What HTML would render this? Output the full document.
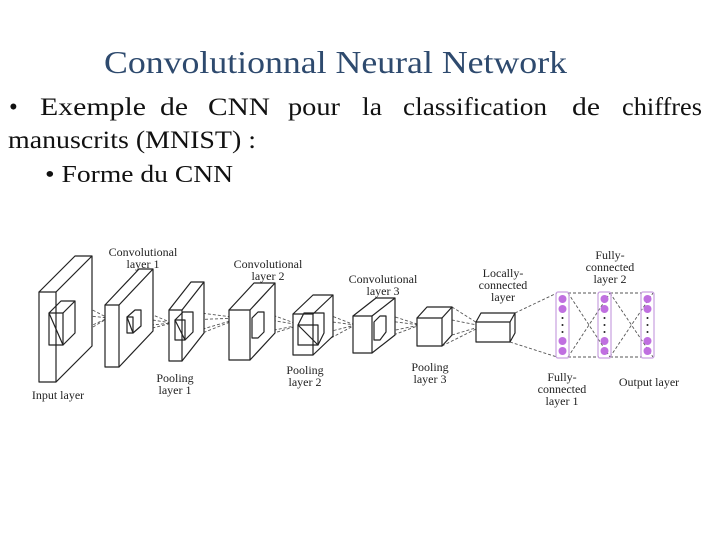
<!DOCTYPE html>
<html><head><meta charset="utf-8"><style>
html,body{margin:0;padding:0;background:#fff}
svg{display:block}
text{font-family:"Liberation Serif",serif}
</style></head><body>
<svg width="720" height="540" viewBox="0 0 720 540" xmlns="http://www.w3.org/2000/svg">
<rect width="720" height="540" fill="#fff"/>
<text x="104" y="73" font-size="32" fill="#2e4a6e" textLength="463" lengthAdjust="spacingAndGlyphs">Convolutionnal Neural Network</text>
<g font-size="25" fill="#111">
<text x="9" y="115">•</text>
<text x="40" y="115" textLength="106" lengthAdjust="spacingAndGlyphs">Exemple</text>
<text x="160" y="115" textLength="28" lengthAdjust="spacingAndGlyphs">de</text>
<text x="208" y="115" textLength="62" lengthAdjust="spacingAndGlyphs">CNN</text>
<text x="288" y="115" textLength="52" lengthAdjust="spacingAndGlyphs">pour</text>
<text x="362" y="115" textLength="20" lengthAdjust="spacingAndGlyphs">la</text>
<text x="403" y="115" textLength="144" lengthAdjust="spacingAndGlyphs">classification</text>
<text x="572" y="115" textLength="28" lengthAdjust="spacingAndGlyphs">de</text>
<text x="622" y="115" textLength="80" lengthAdjust="spacingAndGlyphs">chiffres</text>
</g>
<text x="8" y="148" font-size="25" fill="#111" textLength="248" lengthAdjust="spacingAndGlyphs">manuscrits (MNIST) :</text>
<text x="45" y="182" font-size="24" fill="#111" textLength="188" lengthAdjust="spacingAndGlyphs">• Forme du CNN</text>

<g fill="none" stroke="#555" stroke-width="0.9" stroke-dasharray="3,2">
<path d="M75 301 L108 318 M75 333 L108 318 M63 313 L108 318 M63 345 L108 318"/>
<path d="M141 310 L172 323 M141 326 L172 323 M133 317 L172 323 M133 333 L172 323"/>
<path d="M193 312 L240 318 M193 332 L240 318 M185 320 L240 318 M185 340 L240 318"/>
<path d="M264 312 L300 325 M264 332 L300 325 M258 318 L300 325 M258 338 L300 325"/>
<path d="M324 313 L355 325 M324 333 L355 325 M318 320 L355 325 M318 345 L355 325"/>
<path d="M386 314 L420 325 M386 332 L420 325 M380 320 L420 325 M380 340 L420 325"/>
<path d="M452 307 L482 326 M452 335 L482 326 M442 318 L482 326 M442 346 L482 326"/>
<path d="M515 313 L557 293 M510 342 L557 357"/>
<path d="M568 293 L599 293 M568 357 L599 357 M568 293 L610 357 M568 357 L610 293"/>
<path d="M610 293 L642 293 M610 357 L642 357 M610 293 L653 357 M610 357 L653 293"/>
</g>

<g fill="#fff" stroke="#222" stroke-width="1.2" stroke-linejoin="round">
<path d="M39 292 L75 256 L92 256 L92 346 L56 382 Z"/><rect x="39" y="292" width="17" height="90"/><path d="M56 292 L92 256" fill="none"/>
<path d="M49 313 L61 301 L75 301 L75 333 L63 345 Z" fill="none"/><rect x="49" y="313" width="14" height="32" fill="none"/><path d="M63 313 L75 301" fill="none"/>

<path d="M105 305 L139 269 L153 269 L153 331 L119 367 Z"/><rect x="105" y="305" width="14" height="62"/><path d="M119 305 L153 269" fill="none"/>
<path d="M127 317 L135 310 L141 310 L141 326 L133 333 Z" fill="none"/><rect x="127" y="317" width="6" height="16" fill="none"/>

<path d="M169 310 L191 282 L204 282 L204 333 L182 361 Z"/><rect x="169" y="310" width="13" height="51"/><path d="M182 310 L204 282" fill="none"/>
<path d="M175 320 L183 312 L193 312 L193 332 L185 340 Z" fill="none"/><rect x="175" y="320" width="10" height="20" fill="none"/>

<path d="M229 310 L254 283 L275 283 L275 333 L250 360 Z"/><rect x="229" y="310" width="21" height="50"/><path d="M250 310 L275 283" fill="none"/>
<path d="M252 318 L258 312 L264 312 L264 332 L258 338 L252 338 Z" fill="none"/>

<path d="M293 314 L313 295 L333 295 L333 336 L313 355 Z"/><rect x="293" y="314" width="20" height="41"/><path d="M313 314 L333 295" fill="none"/>
<path d="M298 325 L304 313 L324 313 L324 333 L318 345 Z" fill="none"/><rect x="298" y="325" width="20" height="20" fill="none"/>

<path d="M353 316 L376 298 L395 298 L395 335 L372 353 Z"/><rect x="353" y="316" width="19" height="37"/><path d="M372 316 L395 298" fill="none"/>
<path d="M374 322 L380 316 L386 316 L386 332 L380 340 L374 340 Z" fill="none"/>

<path d="M417 318 L427 307 L452 307 L452 335 L442 346 Z"/><rect x="417" y="318" width="25" height="28"/><path d="M442 318 L452 307" fill="none"/>

<path d="M476 322 L481 313 L515 313 L515 333 L510 342 Z"/><rect x="476" y="322" width="34" height="20"/><path d="M510 322 L515 313" fill="none"/>
</g>

<g stroke="#c9a0e0" stroke-width="1.2" fill="none">
<rect x="556" y="292" width="13" height="66" rx="2"/>
<rect x="598" y="292" width="13" height="66" rx="2"/>
<rect x="641" y="292" width="13" height="66" rx="2"/>
</g>
<g fill="#c070e0">
<circle cx="562.5" cy="299" r="4"/><circle cx="562.5" cy="309" r="4"/><circle cx="562.5" cy="341" r="4"/><circle cx="562.5" cy="351" r="4"/>
<circle cx="604.5" cy="299" r="4"/><circle cx="604.5" cy="309" r="4"/><circle cx="604.5" cy="341" r="4"/><circle cx="604.5" cy="351" r="4"/>
<circle cx="647.5" cy="299" r="4"/><circle cx="647.5" cy="309" r="4"/><circle cx="647.5" cy="341" r="4"/><circle cx="647.5" cy="351" r="4"/>
</g>
<g fill="#222">
<circle cx="562.5" cy="318" r="1"/><circle cx="562.5" cy="325" r="1"/><circle cx="562.5" cy="332" r="1"/>
<circle cx="604.5" cy="318" r="1"/><circle cx="604.5" cy="325" r="1"/><circle cx="604.5" cy="332" r="1"/>
<circle cx="647.5" cy="318" r="1"/><circle cx="647.5" cy="325" r="1"/><circle cx="647.5" cy="332" r="1"/>
</g>

<g font-size="12" fill="#222" text-anchor="middle">
<text x="143" y="256">Convolutional</text><text x="143" y="268">layer 1</text>
<text x="268" y="268">Convolutional</text><text x="268" y="280">layer 2</text>
<text x="383" y="283">Convolutional</text><text x="383" y="295">layer 3</text>
<text x="503" y="277">Locally-</text><text x="503" y="289">connected</text><text x="503" y="301">layer</text>
<text x="610" y="259">Fully-</text><text x="610" y="271">connected</text><text x="610" y="283">layer 2</text>
<text x="175" y="382">Pooling</text><text x="175" y="394">layer 1</text>
<text x="305" y="374">Pooling</text><text x="305" y="386">layer 2</text>
<text x="430" y="371">Pooling</text><text x="430" y="383">layer 3</text>
<text x="562" y="381">Fully-</text><text x="562" y="393">connected</text><text x="562" y="405">layer 1</text>
<text x="649" y="386">Output layer</text>
<text x="58" y="399">Input layer</text>
</g>
</svg>
</body></html>
